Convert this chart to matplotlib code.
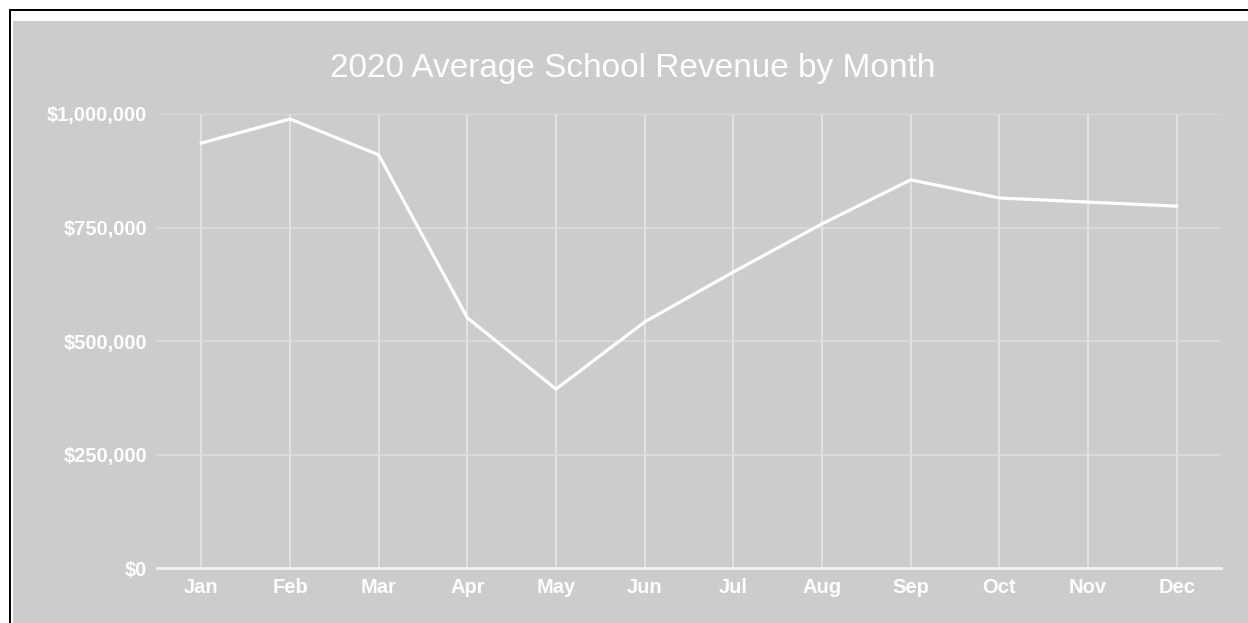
import matplotlib
matplotlib.use('Agg')
import matplotlib.pyplot as plt
from matplotlib.patches import Rectangle
from matplotlib.ticker import FuncFormatter

months = ['Jan', 'Feb', 'Mar', 'Apr', 'May', 'Jun', 'Jul', 'Aug', 'Sep', 'Oct', 'Nov', 'Dec']
revenue = [936000, 989000, 910000, 551000, 394000, 542000, 652000, 758000, 855000, 815000, 806000, 797000]
y_ticks = [0, 250000, 500000, 750000, 1000000]

W, H = 1248, 623
gray = '#cccccc'

plt.rcParams['font.family'] = ['Liberation Sans', 'DejaVu Sans']

fig = plt.figure(figsize=(W / 100, H / 100), dpi=100)
fig.patch.set_facecolor('white')

# frame: black border, white gap, then the gray panel (pixel coords from top-left)
def px_rect(x0, y0, color):
    fig.patches.append(Rectangle((x0 / W, 0), 1 - x0 / W, 1 - y0 / H,
                                 transform=fig.transFigure, facecolor=color,
                                 edgecolor='none', zorder=-10))

px_rect(9, 9, 'black')
px_rect(11, 11, 'white')
px_rect(13, 21, gray)

ax = fig.add_axes([157 / W, 1 - 568 / H, (1221 - 157) / W, (568 - 114) / H])
ax.set_facecolor(gray)

x = list(range(len(months)))
ax.plot(x, revenue, color='white', lw=2.3, solid_joinstyle='round', zorder=3)

ax.set_xlim(-0.5, len(months) - 0.5)
ax.set_ylim(0, 1000000)
ax.set_xticks(x)
ax.set_xticklabels(months)
ax.set_yticks(y_ticks)
ax.yaxis.set_major_formatter(FuncFormatter(lambda v, p: '${:,.0f}'.format(v)))

for s in ['top', 'right', 'left']:
    ax.spines[s].set_visible(False)
ax.spines['bottom'].set_color('#f2f2f2')
ax.spines['bottom'].set_linewidth(2)

ax.grid(axis='x', color='#e8e8e8', lw=1.1)
ax.grid(axis='y', color='#dedede', lw=1.1)
ax.set_axisbelow(True)

ax.tick_params(length=0, labelcolor='white', labelsize=14.5)
ax.tick_params(axis='y', pad=7)
ax.tick_params(axis='x', pad=7)
for lab in ax.get_xticklabels() + ax.get_yticklabels():
    lab.set_fontweight('bold')

fig.text(633 / W, 1 - 68 / H, '2020 Average School Revenue by Month',
         color='white', fontsize=24, ha='center', va='center')

plt.savefig('out.png', dpi=100, facecolor='white')
